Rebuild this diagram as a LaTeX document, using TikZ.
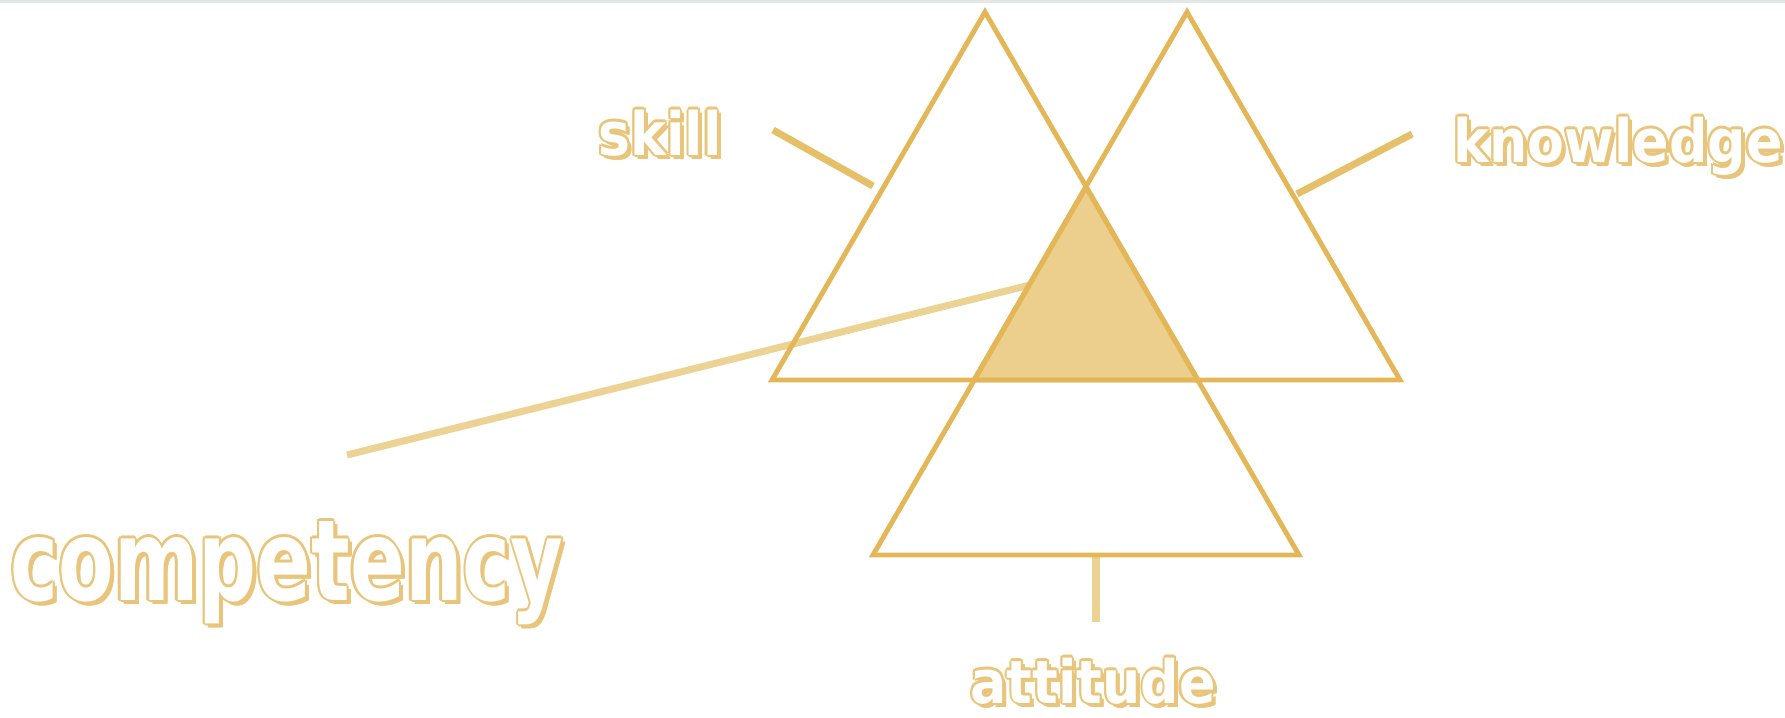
\documentclass[tikz,border=0pt]{standalone}
\usepackage{fontspec}
\newfontfamily\artfont{DejaVu Sans Condensed}
\newfontfamily\bigartfont[FakeStretch=0.8]{DejaVu Sans Condensed}
\usetikzlibrary{calc}
\definecolor{gold}{HTML}{E3B757}
\definecolor{goldfill}{HTML}{ECCF8C}
\definecolor{goldlink}{HTML}{E5C068}
\definecolor{goldlight}{HTML}{ECD293}
\definecolor{rim}{HTML}{E8C57A}
\definecolor{strip}{HTML}{DFE8E4}
\tikzset{
  tri/.style={draw=gold,line width=1.4pt,line join=miter},
  link/.style={draw=#1,line width=2pt},
  link/.default=goldlink,
  word/.style={font=\artfont\bfseries\fontsize{17}{19}\selectfont,anchor=base,inner sep=0pt},
  bigword/.style={font=\bigartfont\bfseries\fontsize{32}{36}\selectfont,anchor=base,inner sep=0pt},
}
\newcommand{\artword}[4]{% name, style, position, text
  \foreach \dx/\dy in {0.6/0,-0.6/0,0/0.6,0/-0.6,0.45/0.45,-0.45/0.45,0.45/-0.45,-0.45/-0.45,
      1.2/-1.2,0.9/-1.2,1.2/-0.9}{
    \node[#2,text=rim] at ([shift={(\dx pt,\dy pt)}]#3) {#4};
  }
  \node[#2,text=white] (#1) at (#3) {#4};
}

\begin{document}
\begin{tikzpicture}[x=0.01cm,y=-0.01cm]
  \useasboundingbox (0,0) rectangle (1785,717);
  \fill[strip] (0,0) rectangle (1785,3);
  % Triangle corners
  \coordinate (sTop) at (985,12);  \coordinate (sL) at (772,380); \coordinate (sR) at (1198,380);
  \coordinate (kTop) at (1187,12); \coordinate (kL) at (974,380); \coordinate (kR) at (1400,380);
  \coordinate (aTop) at (1086,187); \coordinate (aL) at (873,555); \coordinate (aR) at (1299,555);
  % Overlap of the three
  \fill[goldfill] (aTop) -- (kL) -- (sR) -- cycle;
  % Labels
  \artword{skill}{word}{660,155}{skill}
  \artword{knowledge}{word}{1618,162}{knowledge}
  \artword{attitude}{word}{1093,703}{attitude}
  \artword{competency}{bigword}{287,600}{competency}
  % Pointer ends
  \coordinate (skillA) at (773,130);     \coordinate (skillB) at (873,186);
  \coordinate (knowA) at (1412,134);     \coordinate (knowB) at (1297,194);
  \coordinate (attA) at (1096,555);      \coordinate (attB) at (1096,622);
  \coordinate (compA) at (347,455);      \coordinate (compB) at (1030,285);
  \draw[link] (skillA) -- (skillB);
  \draw[link] (knowA) -- (knowB);
  \draw[link=goldlight,line width=2.2pt] (attA) -- (attB);
  \draw[link=goldlight] (compA) -- (compB);
  % Triangles
  \foreach \t in {s,k,a}{
    \draw[tri] (\t Top) -- (\t L) -- (\t R) -- cycle;
  }
\end{tikzpicture}
\end{document}
